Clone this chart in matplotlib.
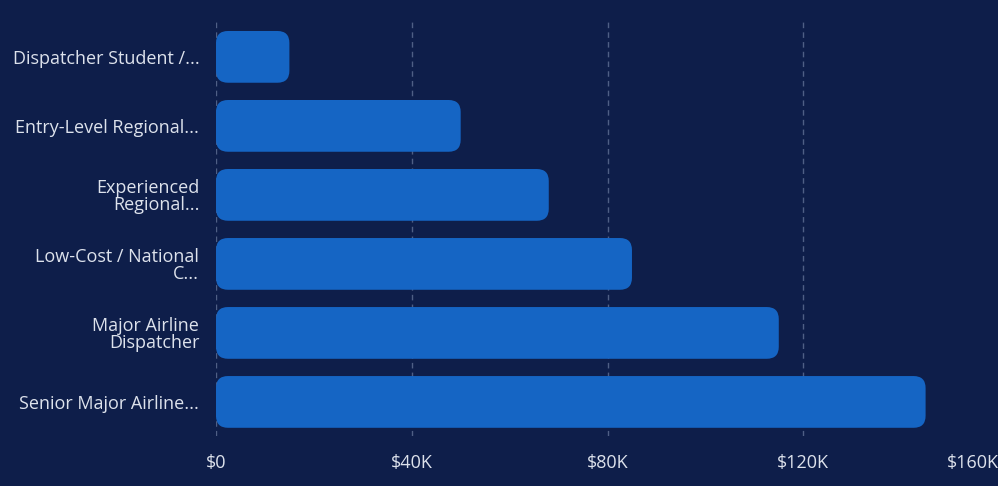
import matplotlib.pyplot as plt
from matplotlib.patches import FancyBboxPatch
from matplotlib.ticker import FuncFormatter

roles = ['Dispatcher Student /...', 'Entry-Level Regional...', 'Experienced\nRegional...',
         'Low-Cost / National\nC...', 'Major Airline\nDispatcher', 'Senior Major Airline...']
salaries = [15000, 50000, 68000, 85000, 115000, 145000]
ticks = [0, 40000, 80000, 120000, 160000]

bg = '#0e1e4a'
bar_color = '#1565c4'
text_color = '#dde2ec'

plt.rcParams['font.family'] = ['Open Sans', 'DejaVu Sans']

fig = plt.figure(figsize=(9.98, 4.86), dpi=100, facecolor=bg)
ax = fig.add_axes([216 / 998, 0.102, 783 / 998, 0.852], facecolor=bg)

ypos = list(range(len(roles)))
ax.set_xlim(0, 160000)
ax.set_ylim(len(roles) - 0.5, -0.5)

# pixel scale so the corners stay round
fig.canvas.draw()
bbox = ax.get_window_extent()
x_per_px = 160000 / bbox.width
y_per_px = len(roles) / bbox.height
height = 0.75
for y, v in zip(ypos, salaries):
    p = FancyBboxPatch((0, y - height / 2), v, height,
                       boxstyle='round,pad=0,rounding_size=%f' % (12 * x_per_px),
                       mutation_aspect=y_per_px / x_per_px,
                       facecolor=bar_color, edgecolor='none', zorder=3)
    ax.add_patch(p)

ax.set_xticks(ticks)
ax.xaxis.set_major_formatter(FuncFormatter(lambda v, _: '$0' if v == 0 else '$%dK' % (v / 1000)))
ax.set_yticks(ypos)
ax.set_yticklabels(roles, linespacing=0.95)
ax.tick_params(axis='both', length=0, colors=text_color, labelsize=13)
ax.tick_params(axis='x', pad=13)
ax.tick_params(axis='y', pad=12)
ax.grid(axis='x', color='#4f5f85', linestyle=(0, (4, 3)), linewidth=1, zorder=0)
for s in ax.spines.values():
    s.set_visible(False)

# last tick label sits at the right edge, keep it inside
fig.canvas.draw()
ax.get_xticklabels()[-1].set_horizontalalignment('right')

fig.savefig('out.png', dpi=100, facecolor=bg)
